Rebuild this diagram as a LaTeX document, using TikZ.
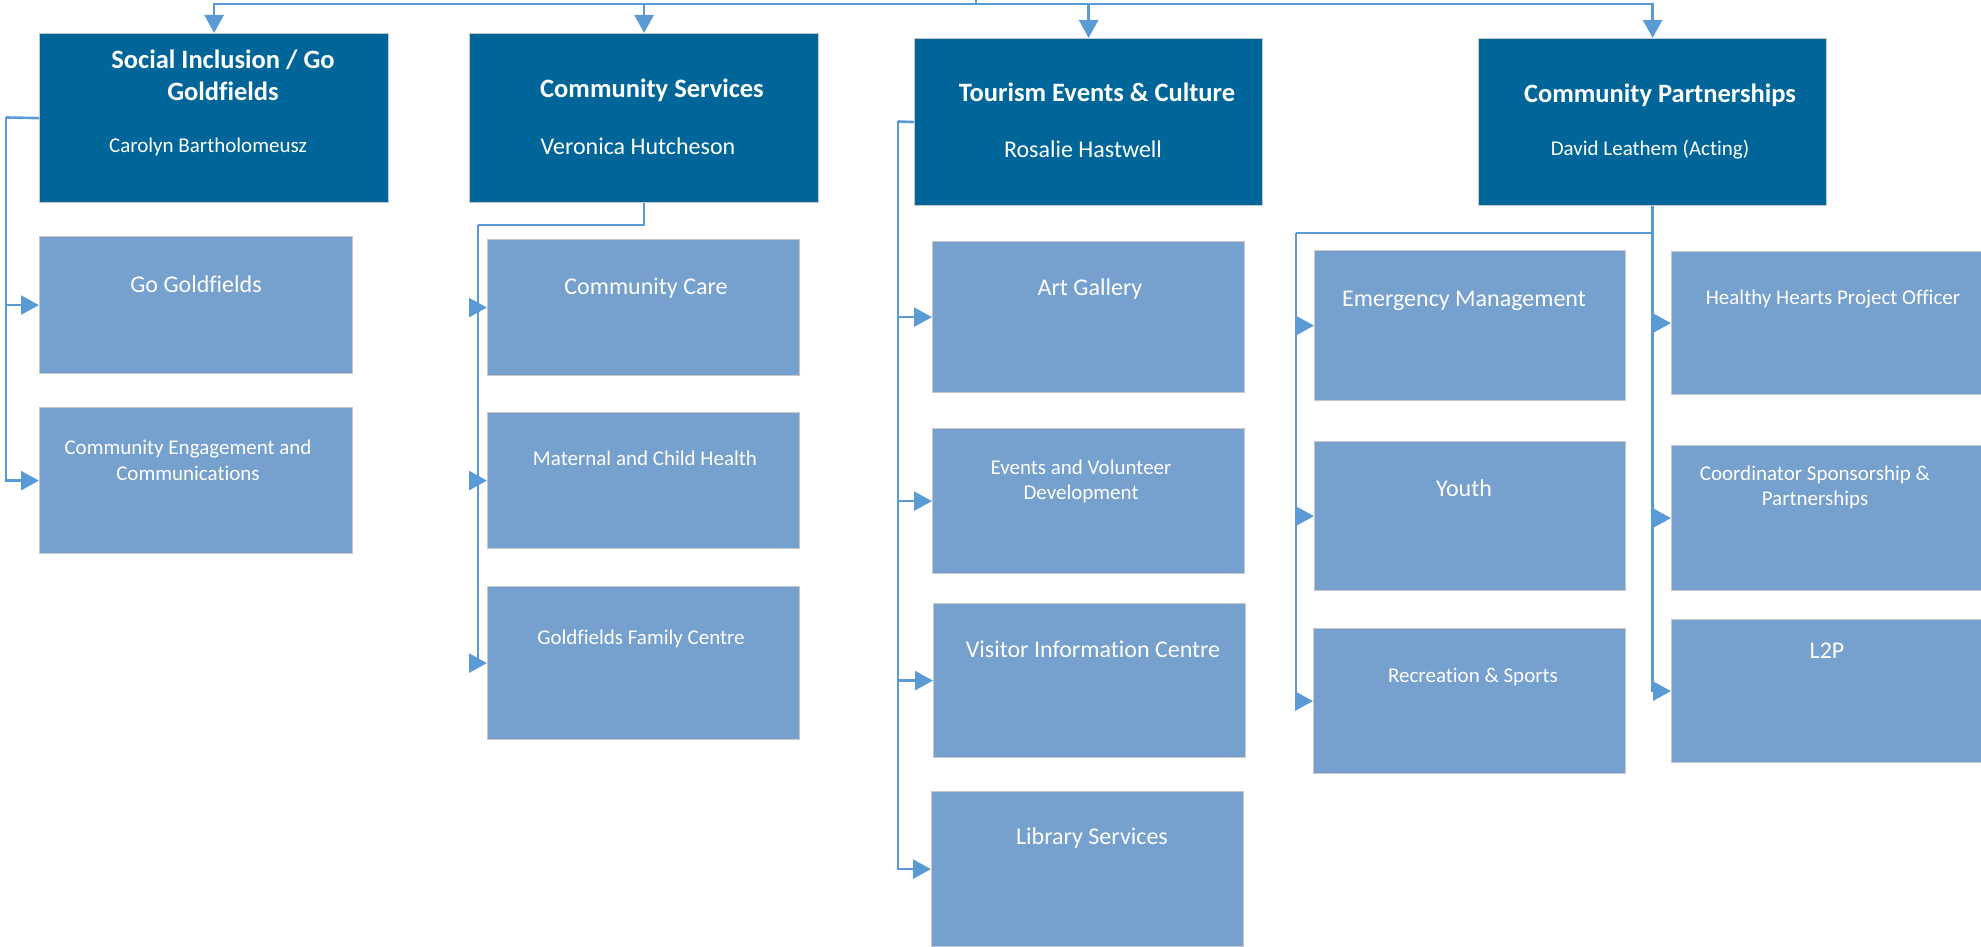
\documentclass[tikz,border=0pt]{standalone}
\usepackage{fontspec}
\setmainfont{Carlito}[Ligatures=NoCommon]
\usetikzlibrary{arrows.meta}
\definecolor{dark}{RGB}{0,102,153}
\definecolor{light}{RGB}{118,160,205}
\definecolor{conn}{RGB}{91,155,213}
\definecolor{edge}{RGB}{200,200,200}
\begin{document}
\begin{tikzpicture}[x=1pt,y=-1pt,
 headbox/.style={fill=dark,draw=edge,line width=1.2pt,inner sep=0pt,anchor=north west},
 subbox/.style={fill=light,draw=edge,line width=1.2pt,inner sep=0pt,anchor=north west},
 link/.style={draw=conn,line width=2.6pt},
 arr/.style={link,-{Triangle[length=18pt,width=19pt]}},
 ttl/.style={text=white,anchor=base,inner sep=0pt,font=\fontsize{26.5}{32}\selectfont\bfseries},
 big/.style={text=white,anchor=base,inner sep=0pt,font=\fontsize{24}{29}\selectfont},
 small/.style={text=white,anchor=base,inner sep=0pt,font=\fontsize{21}{25}\selectfont}]
\useasboundingbox (0,0) rectangle (1981,947);
\clip (0,0) rectangle (1981,947);
% head boxes
\node[headbox,minimum width=349pt,minimum height=169pt] (soc) at (39,33) {};
\node[headbox,minimum width=349pt,minimum height=169pt] (cs) at (469,33) {};
\node[headbox,minimum width=348pt,minimum height=167pt] (tec) at (914,38) {};
\node[headbox,minimum width=348pt,minimum height=167pt] (cp) at (1478,38) {};
% sub boxes
\node[subbox,minimum width=313pt,minimum height=137pt] (gogold) at (39,236) {};
\node[subbox,minimum width=313pt,minimum height=146pt] (commeng) at (39,407) {};
\node[subbox,minimum width=312pt,minimum height=136pt] (ccare) at (487,239) {};
\node[subbox,minimum width=312pt,minimum height=136pt] (mch) at (487,412) {};
\node[subbox,minimum width=312pt,minimum height=153pt] (gfc) at (487,586) {};
\node[subbox,minimum width=312pt,minimum height=151pt] (art) at (932,241) {};
\node[subbox,minimum width=312pt,minimum height=145pt] (evd) at (932,428) {};
\node[subbox,minimum width=312pt,minimum height=154pt] (vic) at (933,603) {};
\node[subbox,minimum width=312pt,minimum height=155pt] (lib) at (931,791) {};
\node[subbox,minimum width=311pt,minimum height=150pt] (em) at (1314,250) {};
\node[subbox,minimum width=311pt,minimum height=149pt] (youth) at (1314,441) {};
\node[subbox,minimum width=312pt,minimum height=145pt] (rec) at (1313,628) {};
\node[subbox,minimum width=330pt,minimum height=143pt] (hh) at (1671,251) {};
\node[subbox,minimum width=330pt,minimum height=145pt] (coord) at (1671,445) {};
\node[subbox,minimum width=330pt,minimum height=143pt] (ltp) at (1671,619) {};
% head texts
\node[ttl] (socT1) at (223,68.5) {Social Inclusion / Go};
\node[ttl] (socT2) at (223,100.5) {Goldfields};
\node[small] (socN) at (208,152.7) {Carolyn Bartholomeusz};
\node[ttl] (csT) at (652,97.5) {Community Services};
\node[big] (csN) at (638,154.7) {Veronica Hutcheson};
\node[ttl] (tecT) at (1097,101.5) {Tourism Events \& Culture};
\node[big] (tecN) at (1083,157.7) {Rosalie Hastwell};
\node[ttl] (cpT) at (1660,102.5) {Community Partnerships};
\node[small] (cpN) at (1650,155.7) {David Leathem (Acting)};
% sub texts
\node[big] (t1) at (196,292.7) {Go Goldfields};
\node[small] (t2a) at (188,454.7) {Community Engagement and};
\node[small] (t2b) at (188,480.7) {Communications};
\node[big] (t3) at (646,294.7) {Community Care};
\node[small] (t4) at (645,465.7) {Maternal and Child Health};
\node[small] (t5) at (641,644.7) {Goldfields Family Centre};
\node[big] (t6) at (1090,295.7) {Art Gallery};
\node[small] (t7a) at (1081,474.7) {Events and Volunteer};
\node[small] (t7b) at (1081,499.7) {Development};
\node[big] (t8) at (1093,657.7) {Visitor Information Centre};
\node[big] (t9) at (1092,844.7) {Library Services};
\node[big] (t10) at (1464,306.7) {Emergency Management};
\node[big] (t11) at (1464,496.7) {Youth};
\node[small] (t12) at (1473,682.7) {Recreation \& Sports};
\node[small] (t13) at (1833,304.7) {Healthy Hearts Project Officer};
\node[small] (t14a) at (1815,480.7) {Coordinator Sponsorship \&};
\node[small] (t14b) at (1815,505.7) {Partnerships};
\node[big] (t15) at (1827,658.7) {L2P};
% connectors: top bus
\coordinate (top) at (976,0);
\coordinate (bus) at (976,4);
\draw[link] (top) -- (bus);
\draw[arr] (bus) -| (soc.north);
\draw[arr] (bus) -| (cs.north);
\draw[arr] (bus) -| (tec.north);
\draw[arr] (bus) -| (cp.north);
% social inclusion
\coordinate (sj) at (6,117.5);
\draw[link] (soc.west) -- (sj);
\draw[arr] (sj) |- (gogold.west);
\draw[arr] (sj) |- (commeng.west);
% community services
\coordinate (csj) at (478,225);
\draw[link] (cs.south) |- (csj);
\draw[arr] (csj) |- (ccare.west);
\draw[arr] (csj) |- (mch.west);
\draw[arr] (csj) |- (gfc.west);
% tourism
\coordinate (tj) at (898,121.5);
\draw[link] (tec.west) -- (tj);
\draw[arr] (tj) |- (art.west);
\draw[arr] (tj) |- (evd.west);
\draw[arr] (tj) |- (vic.west);
\draw[arr] (tj) |- (lib.west);
% partnerships
\coordinate (cpj) at (1296,233);
\draw[link] (cp.south) |- (cpj);
\draw[arr] (cpj) |- (em.west);
\draw[arr] (cpj) |- (youth.west);
\draw[arr] (cpj) |- (rec.west);
\draw[arr] (cp.south) |- (hh.west);
\draw[arr] (cp.south) |- (coord.west);
\draw[arr] (cp.south) |- (ltp.west);
\end{tikzpicture}
\end{document}
